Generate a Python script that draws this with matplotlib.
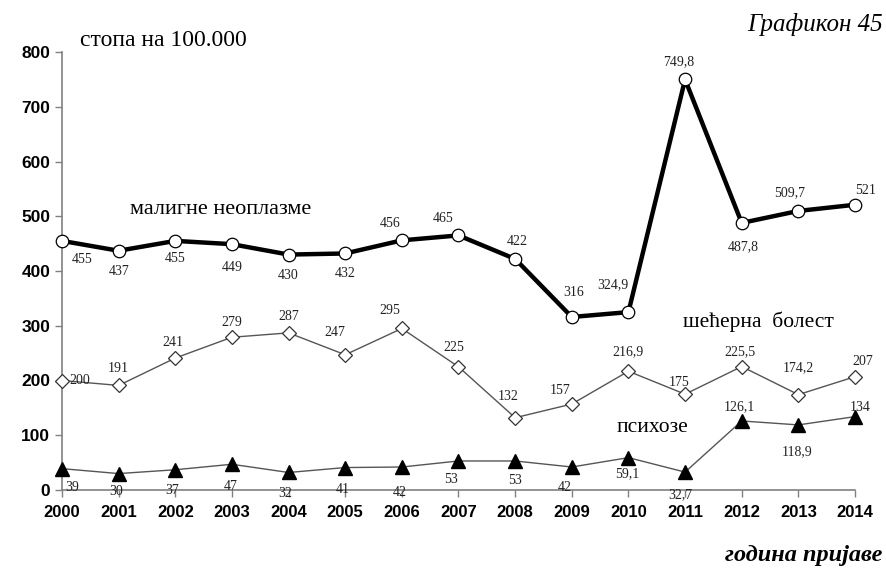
import matplotlib.pyplot as plt
import numpy as np

# ========== 数据 ==========
years = list(range(2000, 2015))
maligne = [455, 437, 455, 449, 430, 432, 456, 465, 422, 316, 324.9, 749.8, 487.8, 509.7, 521]
secerna = [200, 191, 241, 279, 287, 247, 295, 225, 132, 157, 216.9, 175, 225.5, 174.2, 207]
psihoze = [39, 30, 37, 47, 32, 41, 42, 53, 53, 42, 59.1, 32.7, 126.1, 118.9, 134]
y_ticks = [0, 100, 200, 300, 400, 500, 600, 700, 800]

# 标注偏移（像素）
off_mal = [(20, -19), (0, -21), (0, -18), (0, -23), (0, -21), (0, -20), (-12, 17), (-15, 17),
           (2, 17), (2, 24), (-16, 27), (-6, 18), (2, -24), (-9, 18), (11, 14)]
off_sec = [(18, 0), (0, 17), (-2, 16), (0, 15), (0, 16), (-10, 22), (-12, 18), (-5, 19),
           (-7, 21), (-12, 14), (0, 20), (-6, 12), (-2, 15), (0, 27), (8, 15)]
off_psi = [(10, -19), (-3, -18), (-3, -21), (-1, -22), (-3, -21), (-2, -22), (-2, -25), (-7, -19),
           (0, -20), (-7, -20), (-1, -16), (-5, -23), (-2, 14), (-1, -27), (5, 9)]


def fmt(v):
    if float(v).is_integer():
        return str(int(v))
    return f"{v:.1f}".replace(".", ",")


serif = "Liberation Serif"
sans = "Liberation Sans"

fig = plt.figure(figsize=(8.87, 5.68), dpi=100)
ax = fig.add_axes([62 / 887, 1 - 490 / 568, (855 - 62) / 887, (490 - 52) / 568])

ax.plot(years, psihoze, color="#555555", lw=1.0, marker="^", ms=10.5,
        mfc="black", mec="black", zorder=3, clip_on=False)
ax.plot(years, secerna, color="#555555", lw=1.0, marker="D", ms=7.5,
        mfc="white", mec="#333333", mew=0.9, zorder=3, clip_on=False)
ax.plot(years, maligne, color="black", lw=3.2, marker="o", ms=9,
        mfc="white", mec="black", mew=0.9, zorder=4, clip_on=False)

for ser, offs in [(maligne, off_mal), (secerna, off_sec), (psihoze, off_psi)]:
    for x, v, (dx, dy) in zip(years, ser, offs):
        ax.annotate(fmt(v), (x, v), xytext=(dx, dy), textcoords="offset pixels",
                    ha="center", va="center", fontsize=10, family=serif, color="#222222")

ax.set_xlim(2000, 2014)
ax.set_ylim(0, 800)
ax.set_xticks(years)
ax.set_yticks(y_ticks)
ax.set_xticklabels([str(y) for y in years], fontsize=12, fontweight="bold", family=sans)
ax.set_yticklabels([str(y) for y in y_ticks], fontsize=12.5, fontweight="bold", family=sans)
ax.tick_params(axis="both", direction="out", length=5, color="#808080", width=1)
ax.tick_params(axis="x", pad=6)
for s in ["top", "right"]:
    ax.spines[s].set_visible(False)
for s in ["left", "bottom"]:
    ax.spines[s].set_color("#808080")
    ax.spines[s].set_linewidth(1.2)
ax.patch.set_alpha(0)

# 文本注释
fig.text(163 / 887, 1 - 40 / 568, "стопа на 100.000", ha="center", va="center",
         fontsize=17, family=serif)
fig.text(883 / 887, 1 - 25 / 568, "Графикон 45", ha="right", va="center",
         fontsize=18, family=serif, style="italic")
fig.text(221 / 887, 1 - 209 / 568, "малигне неоплазме", ha="center", va="center",
         fontsize=16, family=serif)
fig.text(758 / 887, 1 - 322 / 568, "шећерна  болест", ha="center", va="center",
         fontsize=15.5, family=serif)
fig.text(652 / 887, 1 - 428 / 568, "психозе", ha="center", va="center",
         fontsize=15.5, family=serif)
fig.text(882 / 887, 1 - 556 / 568, "година пријаве", ha="right", va="center",
         fontsize=17.5, family=serif, style="italic", fontweight="bold")

fig.savefig("out.png", dpi=100)
